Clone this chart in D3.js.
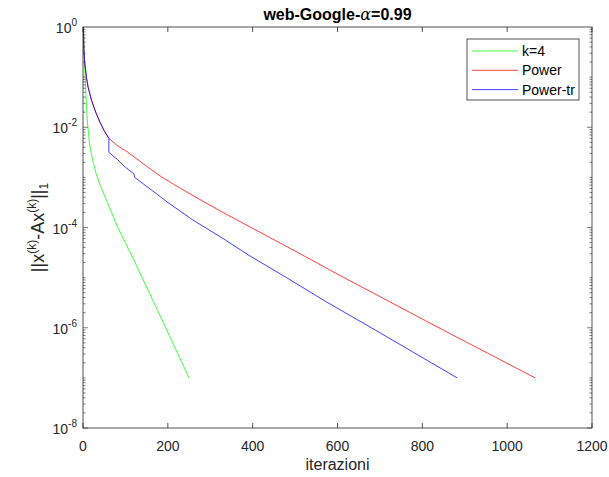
<!DOCTYPE html>
<html>
<head>
<meta charset="utf-8">
<script src="https://cdn.jsdelivr.net/npm/d3@7"></script>
<style>
  body { margin: 0; background: #fff; }
  text { font-family: "Liberation Sans", Arial, sans-serif; fill: #262626; }
</style>
</head>
<body>
<div id="chart"></div>
<script>
// values, residuals stored as log10 exponents
const greenIter = [1, 2, 4, 6, 10, 15, 20, 30, 40, 55, 82, 120, 195, 250];
const greenLog  = [0, -0.35, -0.8, -1.2, -1.85, -2.3, -2.55, -2.9, -3.15, -3.45, -4.0, -4.65, -6.0, -7.0];

const redIter = [1, 2, 4, 8, 12, 20, 30, 40, 50, 61, 80, 106, 150, 185, 230, 271, 330, 394, 500, 600, 716, 850, 1066];
const redLog  = [0, -0.45, -0.7, -1.0, -1.2, -1.46, -1.7, -1.9, -2.07, -2.22, -2.36, -2.5, -2.78, -2.99, -3.22, -3.42, -3.7, -3.99, -4.47, -4.93, -5.45, -6.05, -7.0];

const blueIter = [1, 2, 4, 8, 12, 20, 30, 40, 50, 61, 61, 82, 100, 120, 122, 150, 200, 259, 330, 394, 480, 567, 700, 882];
const blueLog  = [0, -0.45, -0.7, -1.0, -1.2, -1.46, -1.7, -1.9, -2.07, -2.22, -2.5, -2.65, -2.8, -2.93, -3.0, -3.18, -3.5, -3.85, -4.22, -4.57, -5.0, -5.45, -6.1, -7.0];

const xTicks = [0, 200, 400, 600, 800, 1000, 1200];
const yTickExp = [0, -2, -4, -6, -8];
const legendNames = ["k=4", "Power", "Power-tr"];
const lineColors = ["#00ff00", "#ff0000", "#0000ff"];

const width = 609, height = 477;
const margin = {top: 27, right: 17, bottom: 49, left: 83};
const plotW = width - margin.left - margin.right;
const plotH = height - margin.top - margin.bottom;

const svg = d3.select("#chart").append("svg")
    .attr("width", width)
    .attr("height", height);

const x = d3.scaleLinear().domain([0, 1200]).range([0, plotW]);
const y = d3.scaleLog().domain([1e-8, 1]).range([plotH, 0]);

const g = svg.append("g")
    .attr("transform", `translate(${margin.left},${margin.top})`);

// clip so nothing spills past the box
g.append("clipPath").attr("id", "clip")
    .append("rect").attr("width", plotW).attr("height", plotH);

const series = [
    {iter: greenIter, logs: greenLog},
    {iter: redIter, logs: redLog},
    {iter: blueIter, logs: blueLog}
];

const line = d3.line()
    .x(d => x(d[0]))
    .y(d => y(Math.pow(10, d[1])));

series.forEach((s, i) => {
    g.append("path")
        .attr("clip-path", "url(#clip)")
        .attr("d", line(s.iter.map((v, j) => [v, s.logs[j]])))
        .attr("fill", "none")
        .attr("stroke", lineColors[i])
        .attr("stroke-opacity", 0.75)
        .attr("stroke-width", 1);
});

// axes box
const axisColor = "#262626";
g.append("rect")
    .attr("width", plotW).attr("height", plotH)
    .attr("fill", "none")
    .attr("stroke", axisColor)
    .attr("stroke-width", 0.8);

// x ticks (inside, top and bottom)
xTicks.forEach(t => {
    g.append("line").attr("x1", x(t)).attr("x2", x(t))
        .attr("y1", plotH).attr("y2", plotH - 5)
        .attr("stroke", axisColor).attr("stroke-width", 0.8);
    g.append("line").attr("x1", x(t)).attr("x2", x(t))
        .attr("y1", 0).attr("y2", 5)
        .attr("stroke", axisColor).attr("stroke-width", 0.8);
    g.append("text")
        .attr("x", x(t)).attr("y", plotH + 23)
        .attr("text-anchor", "middle")
        .attr("font-size", 14)
        .text(t);
});

// y ticks: minor at k*10^n, major at even decades
for (let n = -8; n < 0; n++) {
    for (let k = 1; k <= 9; k++) {
        const v = k * Math.pow(10, n);
        const major = (k === 1 && n % 2 === 0);
        const len = major ? 5 : 2.5;
        [[0, len], [plotW, plotW - len]].forEach(p => {
            g.append("line")
                .attr("x1", p[0]).attr("x2", p[1])
                .attr("y1", y(v)).attr("y2", y(v))
                .attr("stroke", axisColor).attr("stroke-width", 0.6);
        });
    }
}

yTickExp.forEach(e => {
    const t = g.append("text")
        .attr("x", -6).attr("y", y(Math.pow(10, e)) + 6)
        .attr("text-anchor", "end")
        .attr("font-size", 14);
    t.append("tspan").text("10");
    t.append("tspan")
        .attr("font-size", 10)
        .attr("dy", -7)
        .text(e);
});

// title
const title = svg.append("text")
    .attr("x", margin.left + plotW / 2)
    .attr("y", 20)
    .attr("text-anchor", "middle")
    .attr("font-size", 16)
    .attr("font-weight", "bold")
    .style("fill", "#000");
title.append("tspan").text("web-Google-");
title.append("tspan")
    .attr("font-family", "'DejaVu Serif', 'Liberation Serif', serif")
    .attr("font-style", "italic")
    .attr("font-weight", "normal")
    .text("\u03b1");
title.append("tspan").text("=0.99");

// x label
svg.append("text")
    .attr("x", margin.left + plotW / 2)
    .attr("y", 470)
    .attr("text-anchor", "middle")
    .attr("font-size", 16)
    .text("iterazioni");

// y label
const yl = svg.append("text")
    .attr("transform", `translate(44,${margin.top + plotH / 2}) rotate(-90)`)
    .attr("text-anchor", "middle")
    .attr("font-size", 18);
yl.append("tspan").text("||x");
yl.append("tspan").attr("font-size", 12).attr("dy", -8).text("(k)");
yl.append("tspan").attr("dy", 8).text("-Ax");
yl.append("tspan").attr("font-size", 12).attr("dy", -8).text("(k)");
yl.append("tspan").attr("dy", 8).text("||");
yl.append("tspan").attr("font-size", 12).attr("dy", 4).text("1");

// legend
const lg = svg.append("g").attr("transform", "translate(467,39)");
lg.append("rect")
    .attr("width", 112).attr("height", 61)
    .attr("fill", "#fff")
    .attr("stroke", axisColor)
    .attr("stroke-width", 0.8);
legendNames.forEach((name, i) => {
    const ly = 12 + i * 19.3;
    lg.append("line")
        .attr("x1", 5).attr("x2", 51)
        .attr("y1", ly).attr("y2", ly)
        .attr("stroke", lineColors[i])
        .attr("stroke-opacity", 0.75);
    lg.append("text")
        .attr("x", 55).attr("y", ly + 5)
        .attr("font-size", 14)
        .style("fill", "#000")
        .text(name);
});
</script>
</body>
</html>
